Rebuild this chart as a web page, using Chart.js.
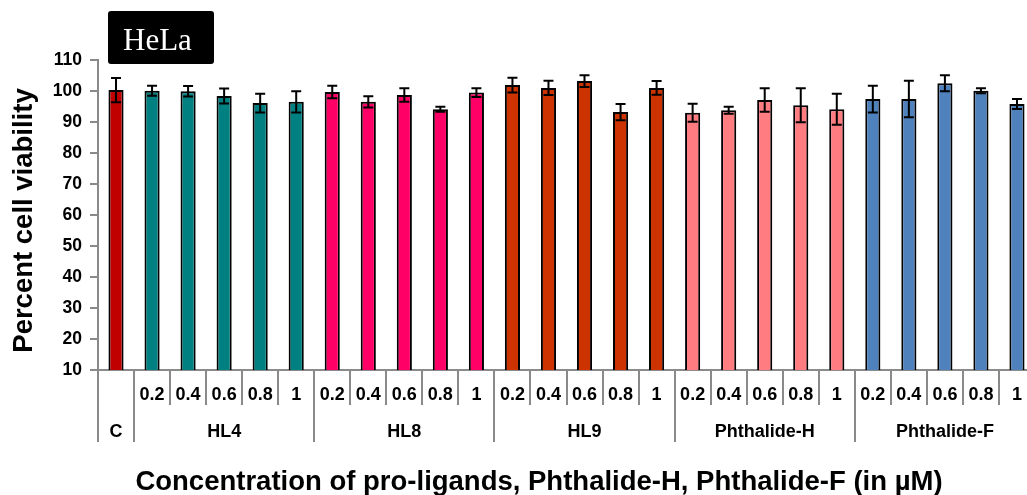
<!DOCTYPE html>
<html>
<head>
<meta charset="utf-8">
<title>HeLa cell viability</title>
<script src="https://cdn.jsdelivr.net/npm/chart.js@4.4.1/dist/chart.umd.min.js"></script>
<style>
  html, body { margin: 0; padding: 0; background: #ffffff; overflow: hidden; }
  #wrap { position: relative; width: 1027px; height: 495px; overflow: hidden; }
  #chart { position: absolute; left: 0; top: 0; }
</style>
</head>
<body>
<div id="wrap"><canvas id="chart" width="1040" height="495"></canvas></div>
<script>
// Treatment groups and concentrations (µM)
const groups = ['C', 'HL4', 'HL8', 'HL9', 'Phthalide-H', 'Phthalide-F'];
const doses = ['0.2', '0.4', '0.6', '0.8', '1'];

// Percent cell viability (mean) and error per group
const control = [100.3];
const controlErr = [3.9];
const hl4 = [100.1, 99.9, 98.4, 96.1, 96.5];
const hl4Err = [1.6, 1.7, 2.4, 3.0, 3.4];
const hl8 = [99.7, 96.5, 98.7, 94.1, 99.5];
const hl8Err = [2.0, 1.8, 2.2, 0.8, 1.4];
const hl9 = [101.9, 101.0, 103.2, 93.2, 101.0];
const hl9Err = [2.4, 2.3, 1.9, 2.6, 2.2];
const phthalideH = [93.0, 93.8, 97.1, 95.4, 94.1];
const phthalideHErr = [2.9, 1.1, 3.8, 5.5, 5.0];
const phthalideF = [97.4, 97.4, 102.5, 100.1, 95.8];
const phthalideFErr = [4.3, 5.9, 2.6, 0.8, 1.6];

// Y axis ticks
const yTicks = [10, 20, 30, 40, 50, 60, 70, 80, 90, 100, 110];

const groupColors = ['#C00000', '#008080', '#FF0066', '#CC3300', '#FF7C80', '#4F81BD'];
const AXIS_GRAY = '#8a8a8a';
const SANS = 'Arial, "Liberation Sans", Helvetica, sans-serif';

// Flatten groups into one category axis
const groupValues = [control, hl4, hl8, hl9, phthalideH, phthalideF];
const groupErrors = [controlErr, hl4Err, hl8Err, hl9Err, phthalideHErr, phthalideFErr];
const labels = [], values = [], errors = [], colors = [], groupOf = [];
groupValues.forEach((vals, g) => {
  vals.forEach((v, k) => {
    labels.push(g === 0 ? '' : doses[k]);
    values.push(v);
    errors.push(groupErrors[g][k]);
    colors.push(groupColors[g]);
    groupOf.push(g);
  });
});

// Error bars, two-level category labels, axis titles and panel tag
const decorations = {
  id: 'decorations',
  afterDatasetsDraw(chart) {
    const ctx = chart.ctx;
    const x = chart.scales.x, y = chart.scales.y;
    ctx.save();
    ctx.strokeStyle = '#000000';
    ctx.lineWidth = 2;
    values.forEach((v, i) => {
      const px = x.getPixelForValue(i);
      const top = y.getPixelForValue(v + errors[i]);
      const bot = y.getPixelForValue(v - errors[i]);
      ctx.beginPath();
      ctx.moveTo(px, top); ctx.lineTo(px, bot);
      ctx.moveTo(px - 5, top); ctx.lineTo(px + 5, top);
      ctx.moveTo(px - 5, bot); ctx.lineTo(px + 5, bot);
      ctx.stroke();
    });
    ctx.restore();
  },
  afterDraw(chart) {
    const ctx = chart.ctx;
    const x = chart.scales.x;
    const area = chart.chartArea;
    const base = area.bottom;
    const half = (x.getPixelForValue(1) - x.getPixelForValue(0)) / 2;
    const row1 = base + 25, row2 = base + 62;
    const sepShort = base + 35, sepLong = base + 72;

    ctx.save();
    ctx.strokeStyle = AXIS_GRAY;
    ctx.lineWidth = 2;
    for (let i = 0; i <= values.length; i++) {
      const cx = i < values.length ? x.getPixelForValue(i) : x.getPixelForValue(i - 1) + 2 * half;
      const bx = Math.round(cx - half);
      const isGroupEdge = i === 0 || i === values.length || groupOf[i] !== groupOf[i - 1];
      ctx.beginPath();
      ctx.moveTo(bx, base);
      ctx.lineTo(bx, isGroupEdge ? sepLong : sepShort);
      ctx.stroke();
    }

    ctx.fillStyle = '#000000';
    ctx.textAlign = 'center';
    ctx.textBaseline = 'middle';
    ctx.font = 'bold 18px ' + SANS;
    labels.forEach((lab, i) => {
      if (lab) ctx.fillText(lab, x.getPixelForValue(i), row1);
    });
    groups.forEach((g, gi) => {
      const idx = groupOf.map((v, i) => (v === gi ? i : -1)).filter(i => i >= 0);
      const cx = (x.getPixelForValue(idx[0]) + x.getPixelForValue(idx[idx.length - 1])) / 2;
      ctx.fillText(g, cx, row2);
    });

    // axis titles
    ctx.font = 'bold 27.5px ' + SANS;
    ctx.textBaseline = 'alphabetic';
    ctx.fillText('Concentration of pro-ligands, Phthalide-H, Phthalide-F (in µM)', 539, 490);
    ctx.save();
    ctx.translate(32, 220.5);
    ctx.rotate(-Math.PI / 2);
    ctx.fillText('Percent cell viability', 0, 0);
    ctx.restore();

    // panel tag
    ctx.fillStyle = '#000000';
    ctx.beginPath();
    ctx.roundRect(108, 11, 106, 53, 3);
    ctx.fill();
    ctx.fillStyle = '#ffffff';
    ctx.textAlign = 'left';
    ctx.textBaseline = 'alphabetic';
    ctx.font = '31px "Liberation Serif", "Times New Roman", serif';
    ctx.fillText('HeLa', 123, 50);
    ctx.restore();
  }
};

new Chart(document.getElementById('chart'), {
  type: 'bar',
  data: {
    labels: labels,
    datasets: [{
      data: values,
      backgroundColor: colors,
      borderColor: '#000000',
      borderWidth: 2,
      borderSkipped: 'start',
      barPercentage: 0.42,
      categoryPercentage: 1.0
    }]
  },
  plugins: [decorations],
  options: {
    responsive: false,
    animation: false,
    devicePixelRatio: 1,
    layout: { padding: { top: 60, right: 5, bottom: 0, left: 0 } },
    plugins: { legend: { display: false }, tooltip: { enabled: false } },
    scales: {
      x: {
        type: 'category',
        offset: true,
        grid: { display: false },
        border: { display: true, color: AXIS_GRAY, width: 2 },
        ticks: { display: false },
        afterFit(scale) { scale.height = 125; }
      },
      y: {
        min: yTicks[0],
        max: yTicks[yTicks.length - 1],
        afterBuildTicks(scale) { scale.ticks = yTicks.map(v => ({ value: v })); },
        grid: { display: true, drawOnChartArea: false, drawTicks: true, tickLength: 8, color: AXIS_GRAY, lineWidth: 2 },
        border: { display: true, color: AXIS_GRAY, width: 2 },
        ticks: { color: '#000000', padding: 8, font: { family: SANS, size: 17.5, weight: 'bold' } },
        title: { display: false },
        afterFit(scale) { scale.width = 98; }
      }
    }
  }
});
</script>
</body>
</html>
